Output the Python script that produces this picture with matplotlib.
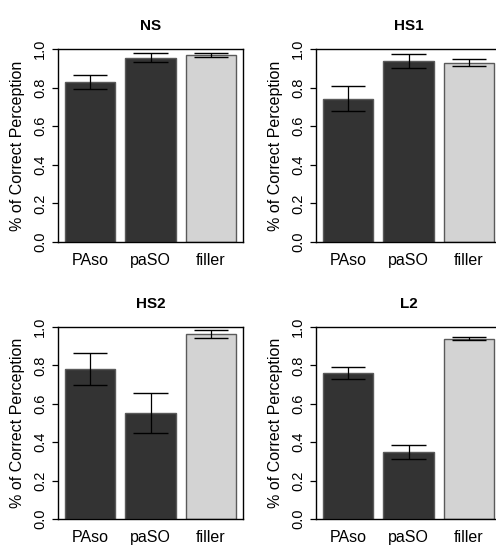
import matplotlib
matplotlib.use("Agg")
import matplotlib.pyplot as plt

plt.rcParams['font.family'] = ['Liberation Sans', 'DejaVu Sans']

# --- data ---
conditions = ["PAso", "paSO", "filler"]
groups = ["NS", "HS1", "HS2", "L2"]

ns_mean = [0.828, 0.955, 0.967]
ns_lo = [0.791, 0.933, 0.957]
ns_hi = [0.866, 0.977, 0.977]

hs1_mean = [0.741, 0.936, 0.929]
hs1_lo = [0.681, 0.900, 0.910]
hs1_hi = [0.807, 0.972, 0.950]

hs2_mean = [0.781, 0.550, 0.963]
hs2_lo = [0.696, 0.447, 0.944]
hs2_hi = [0.864, 0.654, 0.983]

l2_mean = [0.758, 0.350, 0.939]
l2_lo = [0.729, 0.315, 0.934]
l2_hi = [0.790, 0.384, 0.948]

yticks = [0.0, 0.2, 0.4, 0.6, 0.8, 1.0]

all_means = [ns_mean, hs1_mean, hs2_mean, l2_mean]
all_lo = [ns_lo, hs1_lo, hs2_lo, l2_lo]
all_hi = [ns_hi, hs1_hi, hs2_hi, l2_hi]

# --- layout (R barplot look) ---
bar_colors = ['#333333', '#333333', '#D3D3D3']
centers = [0.7, 1.9, 3.1]      # width 1, space 0.2
cap_half = 0.345

fig = plt.figure(figsize=(4.96, 5.47), dpi=100)
W, H = 496, 547
boxes = [(58, 49, 242), (316, 49, 242), (58, 327, 519), (316, 327, 519)]

for i, (x0, ytop, ybot) in enumerate(boxes):
    ax = fig.add_axes([x0 / W, 1 - ybot / H, 185 / W, (ybot - ytop) / H])
    means, lo, hi = all_means[i], all_lo[i], all_hi[i]

    ax.bar(centers, means, width=1.0, color=bar_colors,
           edgecolor='#5a5a5a', linewidth=1.0, zorder=2)
    ax.vlines(centers, lo, hi, color='black', linewidth=0.9, zorder=3)
    for c, l, h in zip(centers, lo, hi):
        ax.hlines([l, h], c - cap_half, c + cap_half, color='black',
                  linewidth=1.0, zorder=3)

    ax.set_xlim(0.064, 3.736)
    ax.set_ylim(0, 1)
    ax.set_xticks(centers, conditions, fontsize=11.5)
    ax.tick_params(axis='x', length=0, pad=8)
    ax.set_yticks(yticks, [f"{v:.1f}" for v in yticks], fontsize=10.5,
                  rotation=90, va='center')
    ax.tick_params(axis='y', length=4.3, width=0.9, pad=3.5)
    for s in ax.spines.values():
        s.set_linewidth(1.0)

    ax.set_ylabel("% of Correct Perception", fontsize=11.5)
    ax.yaxis.set_label_coords(-0.18, 0.5)
    ax.set_title(groups[i], fontsize=11, fontweight='bold', pad=14)

fig.savefig("out.png", dpi=100)
